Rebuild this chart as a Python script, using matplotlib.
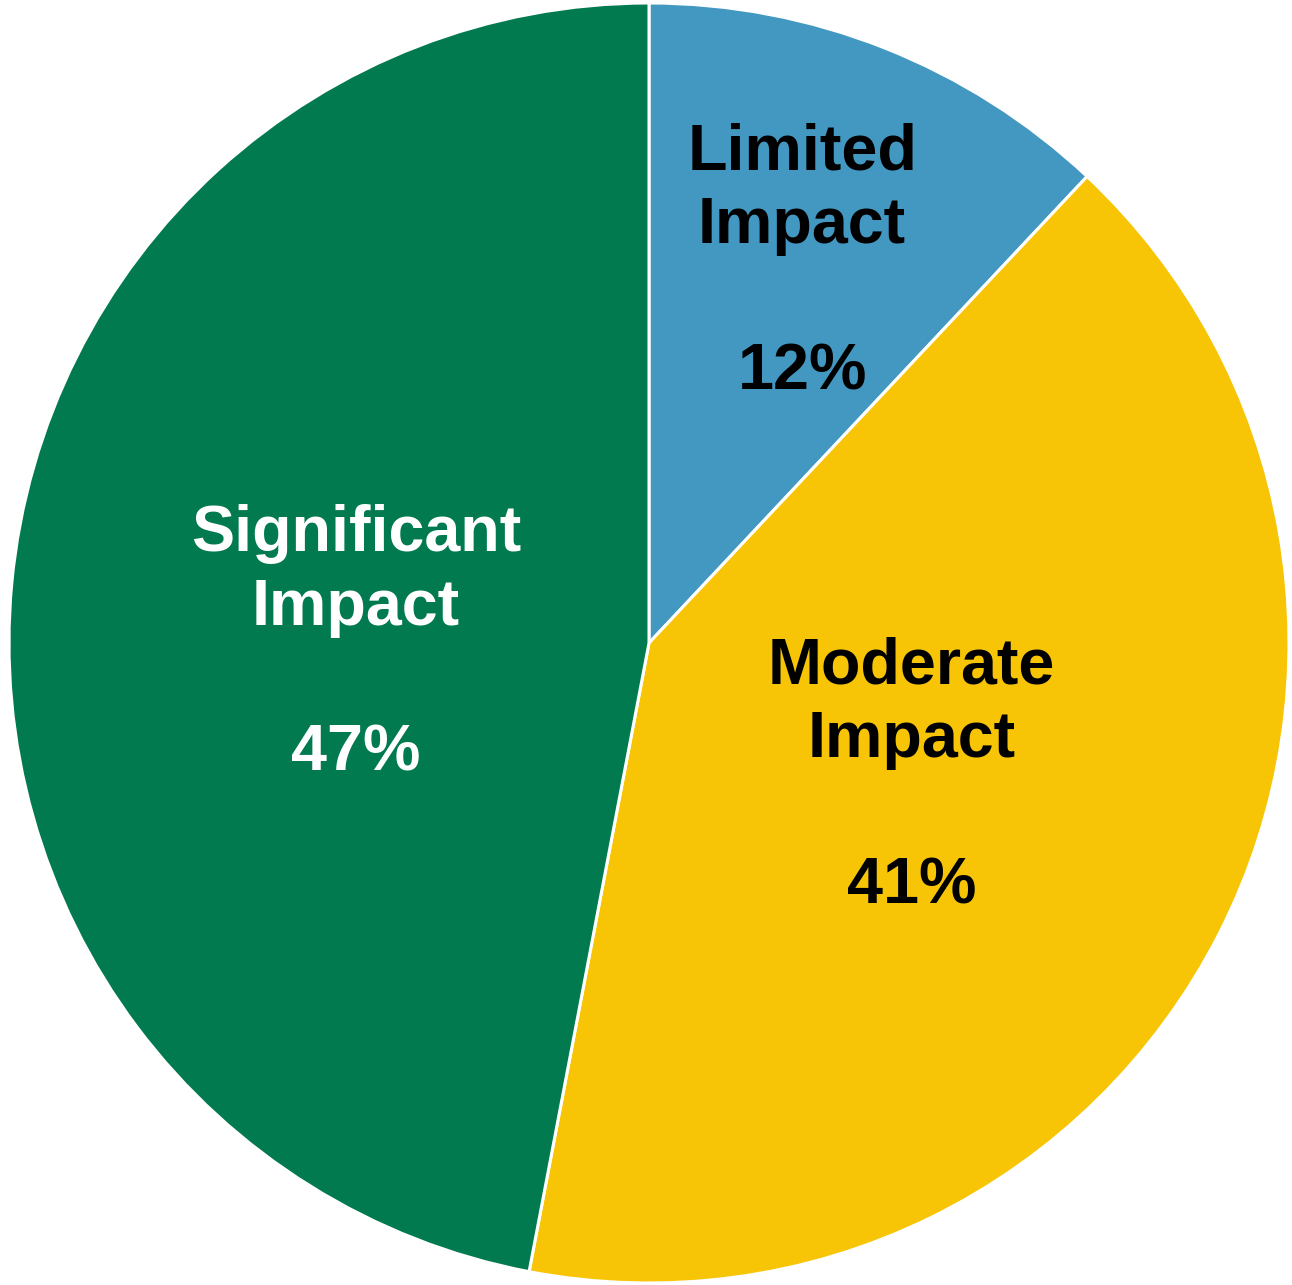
import numpy as np
import matplotlib
matplotlib.use("Agg")
import matplotlib.pyplot as plt

# Share of respondents by level of impact
categories = ["Limited\nImpact", "Moderate\nImpact", "Significant\nImpact"]
shares = [12, 41, 47]

colors = ["#4398C2", "#F7C505", "#007A4E"]
text_colors = ["black", "black", "white"]
label_radius = [0.65, 0.46, 0.46]
label_nudge = [(0.0, -0.01), (0.0, 0.0), (0.0, -0.045)]

W, H, DPI = 1292, 1285, 100
fig = plt.figure(figsize=(W / DPI, H / DPI), dpi=DPI)
ax = fig.add_axes([0, 0, 1, 1])

wedges, _ = ax.pie(
    shares,
    startangle=90,
    counterclock=False,
    colors=colors,
    radius=1.0,
    wedgeprops=dict(edgecolor="white", linewidth=2.2),
)

for w, cat, val, tc, r, (dx, dy) in zip(wedges, categories, shares, text_colors,
                                        label_radius, label_nudge):
    mid = np.deg2rad((w.theta1 + w.theta2) / 2)
    x = r * np.cos(mid) + dx
    y = r * np.sin(mid) + dy
    ax.text(x, y, f"{cat}\n\n{val}%", ha="center", va="center",
            color=tc, fontsize=46.5, fontweight="bold",
            family="Liberation Sans", linespacing=1.28)

# one data unit equals the pie radius in pixels
R_PX = 640
cx, cy = 649, 642
ax.set_aspect("auto")
ax.set_xlim(-cx / R_PX, (W - cx) / R_PX)
ax.set_ylim(-cy / R_PX, (H - cy) / R_PX)
ax.axis("off")

fig.savefig("out.png", dpi=DPI, facecolor="white")
